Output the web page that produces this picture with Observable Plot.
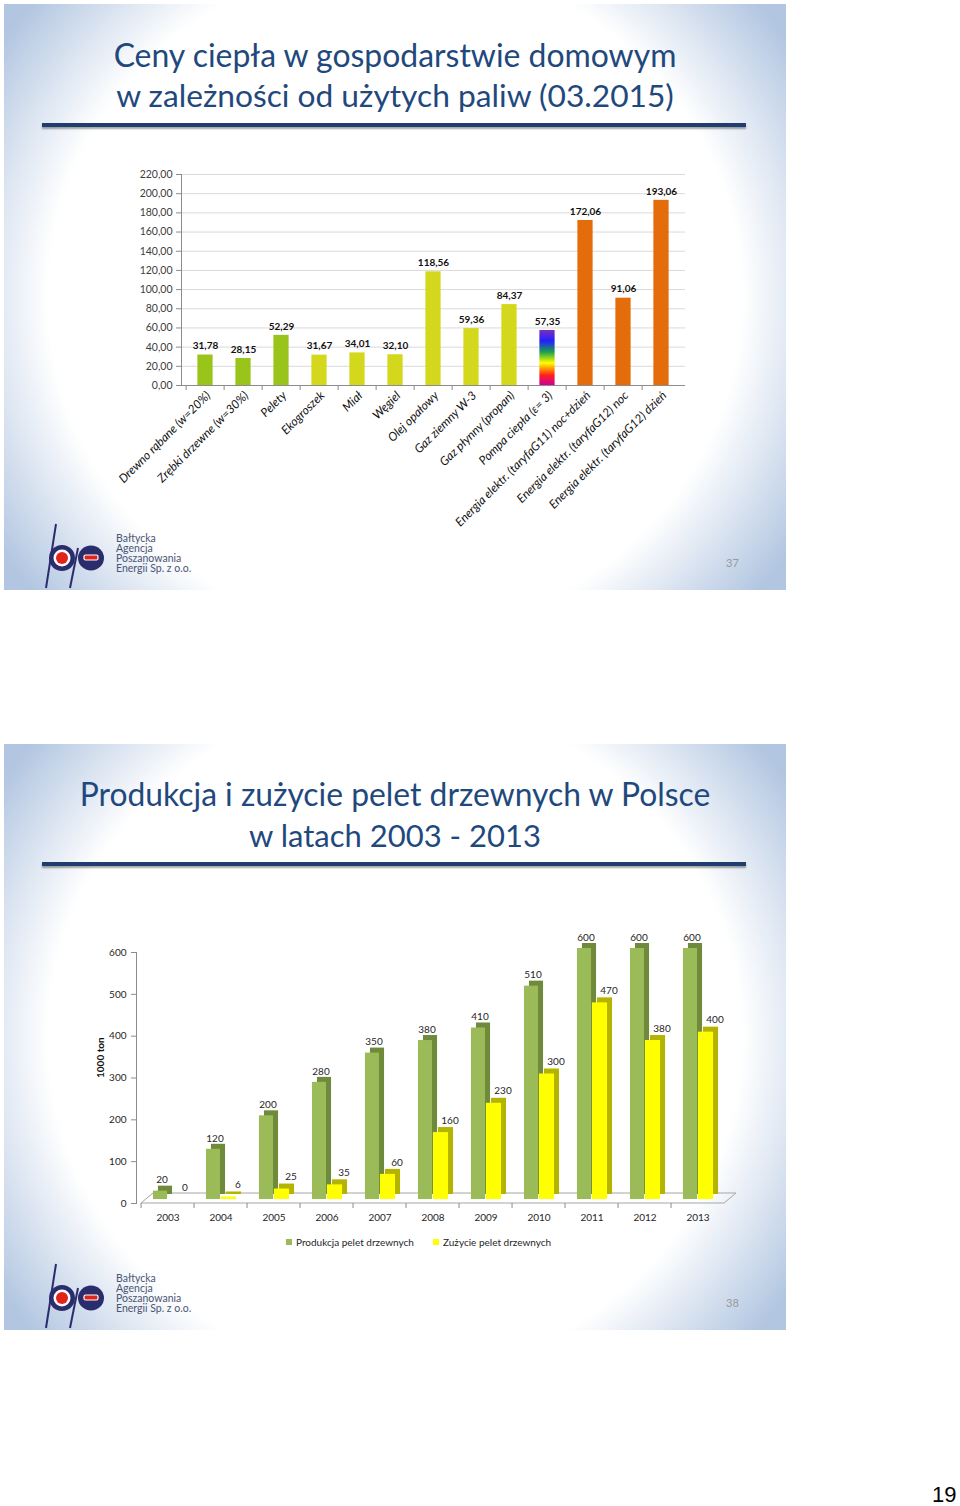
<!DOCTYPE html>
<html><head><meta charset="utf-8">
<script src="https://cdn.jsdelivr.net/npm/d3@7"></script>
<script src="https://cdn.jsdelivr.net/npm/@observablehq/plot@0.6"></script>
<style>
html,body{margin:0;padding:0;background:#fff;}
body{width:960px;height:1506px;position:relative;overflow:hidden;font-family:Lato,"Open Sans",sans-serif;}
.slide{position:absolute;left:4px;width:782px;height:586px;
  background:radial-gradient(ellipse 54% 70% at 50% 50%, #ffffff 82%, #b2c6e1 112%);}
.title{position:absolute;left:0;width:782px;text-align:center;color:#1f497d;white-space:nowrap;line-height:1;}
.title span{display:inline-block;}
.rule{position:absolute;left:38px;width:704px;height:4px;background:#1f3d6e;box-shadow:0 2px 2px rgba(0,0,0,0.35);}
.snum{position:absolute;left:722px;font-size:11px;color:#9a9a9a;}
.logo{position:absolute;left:34px;width:170px;height:75px;}
.logo .txt{position:absolute;left:82px;top:15px;font-size:10.5px;line-height:10px;color:#4a5574;}
.chart{position:absolute;left:0;}
.legend{position:absolute;top:1236px;font-size:10px;color:#262626;white-space:nowrap;}
.legend i{display:inline-block;width:6px;height:6px;margin-right:4px;vertical-align:1px;}
#pagenum{position:absolute;left:932px;top:1482px;font-family:"Liberation Sans",Arial,sans-serif;font-size:22px;color:#000;}
</style></head>
<body>
<svg width="0" height="0" style="position:absolute">
  <defs>
    <linearGradient id="rainbow" x1="0" y1="0" x2="0" y2="1">
      <stop offset="0" stop-color="#7b2fbe"/>
      <stop offset="0.2" stop-color="#2020ff"/>
      <stop offset="0.4" stop-color="#1ba24a"/>
      <stop offset="0.52" stop-color="#a8d81a"/>
      <stop offset="0.6" stop-color="#ffff00"/>
      <stop offset="0.7" stop-color="#ff9900"/>
      <stop offset="0.82" stop-color="#ff2020"/>
      <stop offset="1" stop-color="#cc0099"/>
    </linearGradient>
  </defs>
</svg>

<div class="slide" id="s1" style="top:4px"></div>
<div class="slide" id="s2" style="top:744px"></div>

<div class="title" id="t1a" style="top:39px;left:4px"><span>Ceny ciepła w gospodarstwie domowym</span></div>
<div class="title" id="t1b" style="top:80px;left:4px"><span>w zależności od użytych paliw (03.2015)</span></div>
<div class="rule" style="top:123px;left:42px"></div>

<div class="title" id="t2a" style="top:779px;left:4px"><span>Produkcja i zużycie pelet drzewnych w Polsce</span></div>
<div class="title" id="t2b" style="top:820px;left:4px"><span>w latach 2003 - 2013</span></div>
<div class="rule" style="top:862px;left:42px"></div>

<div class="snum" style="top:556px;left:726px">37</div>
<div class="snum" style="top:1296px;left:726px">38</div>

<div id="chart1" class="chart" style="top:150px"></div>
<div id="chart2" class="chart" style="top:920px"></div>

<div class="legend" style="left:286px"><i style="background:#9bbb59"></i>Produkcja pelet drzewnych</div>
<div class="legend" style="left:433px"><i style="background:#ffff00"></i>Zużycie pelet drzewnych</div>

<div id="pagenum">19</div>

<script>
// ---------- Data: chart 1 ----------
const fuels = [
  "Drewno rąbane (w=20%)", "Zrębki drzewne (w=30%)", "Pelety", "Ekogroszek", "Miał", "Węgiel",
  "Olej opałowy", "Gaz ziemny W-3", "Gaz płynny (propan)", "Pompa ciepła (ε= 3)",
  "Energia elektr. (taryfaG11) noc+dzień", "Energia elektr. (taryfaG12) noc", "Energia elektr. (taryfaG12) dzień"
];
const prices = [31.78, 28.15, 52.29, 31.67, 34.01, 32.10, 118.56, 59.36, 84.37, 57.35, 172.06, 91.06, 193.06];
const fuelGroups = ["wood","wood","wood","solid","solid","solid","solid","solid","solid","heatpump","electric","electric","electric"];
const groupColors = {wood:"#99c51a", solid:"#d4d81c", heatpump:"url(#rainbow)", electric:"#e46c0a"};
const priceTicks = [0,20,40,60,80,100,120,140,160,180,200,220];

// ---------- Data: chart 2 ----------
const years = ["2003","2004","2005","2006","2007","2008","2009","2010","2011","2012","2013"];
const production = [20,120,200,280,350,380,410,510,600,600,600];
const consumption = [0,6,25,35,60,160,230,300,470,380,400];
const volumeTicks = [0,100,200,300,400,500,600];

const font = "Lato, 'Open Sans', sans-serif";
const fmt = v => v.toFixed(2).replace(".", ",");

// ---------- logos ----------
function logo(top){
  const d = document.createElement("div");
  d.className = "logo"; d.style.top = top + "px";
  d.innerHTML = `<svg width="80" height="75" style="position:absolute;left:0;top:0">
    <line x1="22" y1="6" x2="12" y2="70" stroke="#2b2c6c" stroke-width="2"/>
    <circle cx="28" cy="40" r="13" fill="#2b2c6c"/>
    <circle cx="28" cy="40" r="8.5" fill="#fff"/>
    <circle cx="28" cy="40" r="6" fill="#e2231a"/>
    <line x1="44" y1="30" x2="36" y2="70" stroke="#2b2c6c" stroke-width="2"/>
    <ellipse cx="57" cy="40" rx="13" ry="12.5" fill="#2b2c6c"/>
    <rect x="50" y="37" width="14" height="5" rx="1.5" fill="#e2231a" stroke="#fff" stroke-width="1.2"/>
  </svg>
  <div class="txt">Bałtycka<br>Agencja<br>Poszanowania<br>Energii Sp. z o.o.</div>`;
  document.body.appendChild(d);
}
logo(518); logo(1258);

// ---------- fit titles ----------
function fit(id, target, size){
  const el = document.getElementById(id);
  el.style.fontSize = size + "px";
  const w = el.querySelector("span").getBoundingClientRect().width;
  el.style.fontSize = (size * target / w) + "px";
}
fit("t1a", 563, 32); fit("t1b", 558, 32);
fit("t2a", 631, 32); fit("t2b", 292, 32);

// ---------- Chart 1 ----------
{
  const W = 720, H = 400, ml = 181, mr = 35, mt = 24, mb = 165;
  const bw = (W - ml - mr) / fuels.length;
  const barW = 16;
  const data = fuels.map((f, i) => ({fuel: f, price: prices[i], color: groupColors[fuelGroups[i]]}));
  const chart = Plot.plot({
    width: W, height: H, marginLeft: ml, marginRight: mr, marginTop: mt, marginBottom: mb,
    style: {fontFamily: font, fontSize: "10px", color: "#404040", background: "transparent", overflow: "visible"},
    x: {domain: fuels, padding: 0, label: null},
    y: {domain: [0, 220], label: null},
    color: {type: "identity"},
    marks: [
      Plot.gridY(priceTicks, {stroke: "#d9d9d9", strokeOpacity: 1}),
      Plot.barY(data, {x: "fuel", y: "price", fill: "color", insetLeft: (bw - barW) / 2, insetRight: (bw - barW) / 2}),
      Plot.text(data, {x: "fuel", y: "price", text: d => fmt(d.price), dy: -9, fontWeight: "bold", fill: "#111", fontSize: 10}),
      Plot.ruleY([0], {stroke: "#8c8c8c"}),
      Plot.frame({anchor: "left", stroke: "#8c8c8c"}),
      Plot.axisY(priceTicks, {tickFormat: fmt, tickSize: 5, tickPadding: 4, stroke: "#8c8c8c", fill: "#404040", fontSize: 10.5, label: null}),
      Plot.axisX({tickSize: 5, tickFormat: () => "", dx: -bw / 2, stroke: "#8c8c8c", label: null}),
      Plot.axisX({tickSize: 0, tickPadding: 8, tickRotate: -45, fontStyle: "italic", fontSize: 12, fill: "#111", label: null, dx: 3})
    ]
  });
  document.getElementById("chart1").appendChild(chart);
}

// ---------- Chart 2 ----------
{
  const W = 760, H = 320, ml = 136, mr = 31, mt = 32, mb = 37;
  const bw = (W - ml - mr) / years.length;
  const data = years.map((y, i) => ({year: y, prod: production[i], cons: consumption[i]}));
  const green = {x: "year", insetLeft: bw / 2 - 15, insetRight: bw / 2};
  const yellow = {x: "year", insetLeft: bw / 2, insetRight: bw / 2 - 16};
  const chart = Plot.plot({
    width: W, height: H, marginLeft: ml, marginRight: mr, marginTop: mt, marginBottom: mb,
    style: {fontFamily: font, fontSize: "10px", color: "#262626", background: "transparent", overflow: "visible"},
    x: {domain: years, padding: 0, label: null},
    y: {domain: [0, 600], label: null},
    marks: [
      Plot.frame({anchor: "left", stroke: "#8c8c8c"}),
      Plot.axisY(volumeTicks, {tickSize: 5, tickPadding: 5, stroke: "#8c8c8c", fill: "#262626", label: null}),
      Plot.axisX({tickSize: 5, tickFormat: () => "", dx: -bw / 2, stroke: "#8c8c8c", label: null}),
      Plot.axisX({tickSize: 0, tickPadding: 10, fill: "#262626", label: null}),
      Plot.text(["1000 ton"], {frameAnchor: "left", rotate: -90, dx: -36, fontWeight: "bold", fontSize: 10, fill: "#111"}),
      // 3D side/top faces then front faces
      Plot.barY(data, {...green, y: "prod", fill: "#6f8a3a", dx: 5, dy: -9}),
      Plot.barY(data, {...green, y: "prod", fill: "#9bbb59", dy: -4}),
      Plot.barY(data, {...yellow, y: "cons", fill: "#b3b300", dx: 5, dy: -9}),
      Plot.barY(data, {...yellow, y: "cons", fill: "#ffff00", dy: -4}),
      Plot.text(data, {x: "year", y: "prod", text: d => String(d.prod), dx: -6, dy: -15, fill: "#262626"}),
      Plot.text(data, {x: "year", y: "cons", text: d => String(d.cons), dx: 17, dy: -16, fill: "#262626"})
    ]
  });
  document.getElementById("chart2").appendChild(chart);
  // floor outline of the 3D plot area, from the chart's own scales
  const sx = chart.scale("x"), sy = chart.scale("y");
  const x0 = sx.apply(years[0]), x1 = sx.apply(years[years.length - 1]) + sx.bandwidth, y0 = sy.apply(0);
  d3.select(chart).append("path")
    .attr("d", `M${x0},${y0}L${x1},${y0}L${x1 + 12},${y0 - 10}L${x0 + 12},${y0 - 10}Z`)
    .attr("fill", "none").attr("stroke", "#a6a6a6").lower();
}
</script>
</body></html>
